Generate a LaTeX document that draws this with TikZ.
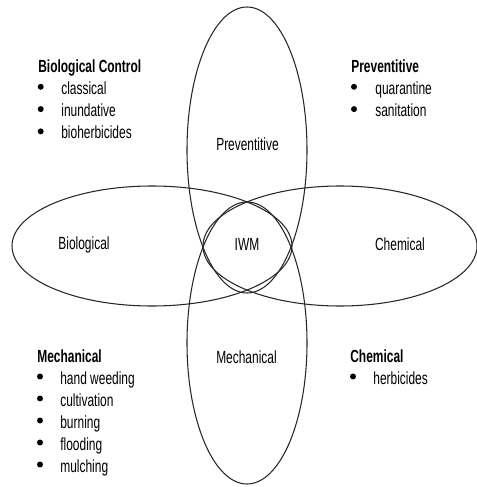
\documentclass[tikz,border=0pt]{standalone}
\usepackage{fontspec}
\setmainfont[FakeStretch=0.68]{Liberation Sans}
\usetikzlibrary{positioning}

\begin{document}
\begin{tikzpicture}
        [x=0.2mm,y=-0.2mm,
         ring/.style={draw=black!85, line width=0.6pt},
         area/.style={anchor=base, inner sep=0pt},
         head/.style={anchor=base west, inner sep=0pt, font=\bfseries},
         entry/.style={anchor=base west, inner sep=0pt},
         dot/.style={circle, fill=black, inner sep=0pt, minimum size=3.4pt}]
        \useasboundingbox (0,0) rectangle (477,487);
        % the four overlapping ellipses
        \draw[ring] (247,150) ellipse [x radius=60, y radius=143];
        \draw[ring] (247,343) ellipse [x radius=60, y radius=141];
        \draw[ring] (152,246) ellipse [x radius=140, y radius=60];
        \draw[ring] (340,246) ellipse [x radius=137, y radius=60];
        \path node at (247.5,150) [area] (prevarea) {Preventitive}
              node at (84,249) [area] (bioarea) {Biological}
              node at (400,250) [area] (chemarea) {Chemical}
              node at (247,250) [area] (iwm) {IWM}
              node at (246.5,363) [area] (mecharea) {Mechanical};
        % lists in the corners
        \path node at (38,72) [head] (biohead) {Biological Control}
              node at (351,72) [head] (prevhead) {Preventitive}
              node at (37,362) [head] (mechhead) {Mechanical}
              node at (350,362) [head] (chemhead) {Chemical};
        \foreach \t [count=\i] in {classical,inundative,bioherbicides}
          \path node at (40.7,72+22.3*\i-7.5) [dot] (biodot\i) {}
                node at (61,72+22.3*\i) [entry] (bio\i) {\t};
        \foreach \t [count=\i] in {quarantine,sanitation}
          \path node at (354,72+22.3*\i-7.5) [dot] (prevdot\i) {}
                node at (375,72+22.3*\i) [entry] (prev\i) {\t};
        \foreach \t [count=\i] in {hand weeding,cultivation,burning,flooding,mulching}
          \path node at (40,362+22*\i-7.5) [dot] (mechdot\i) {}
                node at (60,362+22*\i) [entry] (mech\i) {\t};
        \foreach \t [count=\i] in {herbicides}
          \path node at (353,362+22*\i-7.5) [dot] (chemdot\i) {}
                node at (373,362+22*\i) [entry] (chem\i) {\t};
      \end{tikzpicture}
\end{document}
